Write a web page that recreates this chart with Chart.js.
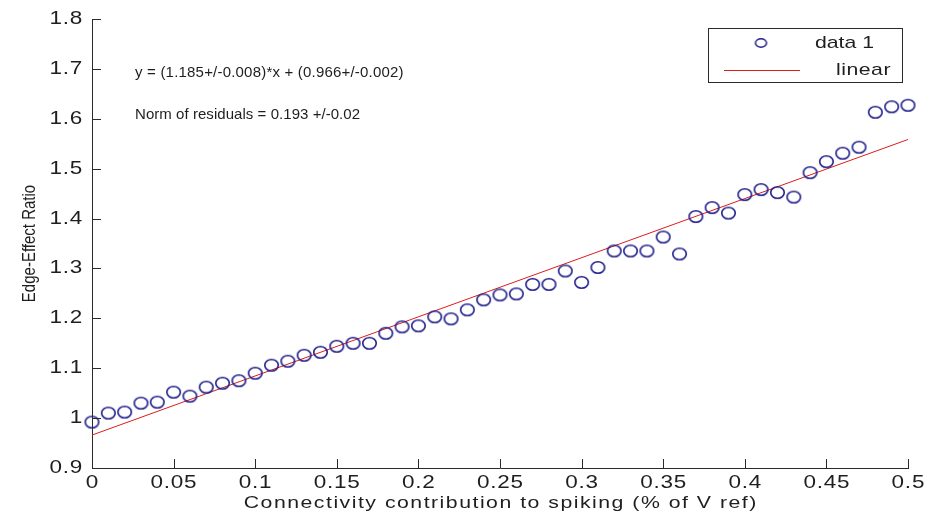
<!DOCTYPE html>
<html>
<head>
<meta charset="utf-8">
<script src="https://cdn.jsdelivr.net/npm/chart.js@4.4.1/dist/chart.umd.min.js"></script>
<style>
  html, body { margin: 0; padding: 0; background: #fff; }
  #wrap { width: 930px; height: 514px; position: relative; }
</style>
</head>
<body>
<div id="wrap"><canvas id="c" width="930" height="514"></canvas></div>
<script>
// connectivity contribution (x) and measured edge-effect ratio
const xValues = [0, 0.01, 0.02, 0.03, 0.04, 0.05, 0.06, 0.07, 0.08, 0.09,
  0.10, 0.11, 0.12, 0.13, 0.14, 0.15, 0.16, 0.17, 0.18, 0.19,
  0.20, 0.21, 0.22, 0.23, 0.24, 0.25, 0.26, 0.27, 0.28, 0.29,
  0.30, 0.31, 0.32, 0.33, 0.34, 0.35, 0.36, 0.37, 0.38, 0.39,
  0.40, 0.41, 0.42, 0.43, 0.44, 0.45, 0.46, 0.47, 0.48, 0.49, 0.50];
const ratioValues = [0.992, 1.010, 1.012, 1.030, 1.032, 1.052, 1.044, 1.062, 1.070, 1.075,
  1.090, 1.106, 1.114, 1.126, 1.132, 1.144, 1.150, 1.150, 1.170, 1.183,
  1.185, 1.203, 1.199, 1.217, 1.237, 1.247, 1.249, 1.268, 1.268, 1.295,
  1.272, 1.302, 1.335, 1.335, 1.335, 1.363, 1.329, 1.404, 1.422, 1.411,
  1.448, 1.458, 1.452, 1.443, 1.492, 1.514, 1.531, 1.543, 1.613, 1.624, 1.627];
// fitted line end points (from the printed fit)
const fitX = [0, 0.5];
const fitY = [0.966, 1.5585];

const xTicks = [0, 0.05, 0.1, 0.15, 0.2, 0.25, 0.3, 0.35, 0.4, 0.45, 0.5];
const yTicks = [0.9, 1, 1.1, 1.2, 1.3, 1.4, 1.5, 1.6, 1.7, 1.8];

const xTitle = 'Connectivity contribution to spiking (% of V ref)';
const yTitle = 'Edge-Effect Ratio';
const fitText = 'y = (1.185+/-0.008)*x + (0.966+/-0.002)';
const normText = 'Norm of residuals = 0.193 +/-0.02';

const FONT = "'Liberation Sans', Arial, sans-serif";
const AXIS = '#2a2a2a';
const TEXT = '#1e1e1e';
const BLUE = '#20208c';
const RED = '#dc1c1c';

// the source picture is stretched sideways, so markers and text are too
const SX = 1.25;

function ring(w, h, lw) {
  const c = document.createElement('canvas');
  c.width = w + 4;
  c.height = h + 4;
  const g = c.getContext('2d');
  g.strokeStyle = BLUE;
  g.lineWidth = lw;
  g.beginPath();
  g.ellipse(c.width / 2, c.height / 2, w / 2, h / 2, 0, 0, Math.PI * 2);
  g.stroke();
  return c;
}
const marker = ring(13.5, 11.5, 1.6);
const legendMarker = ring(11, 8.5, 1.5);

// draw text squeezed/stretched by sx along the baseline
function wide(ctx, text, x, y, sx, spacing) {
  ctx.save();
  ctx.translate(x, y);
  ctx.scale(sx, 1);
  ctx.letterSpacing = (spacing || 0) + 'px';
  ctx.fillText(text, ctx.textAlign === 'center' ? (spacing || 0) / 2 : 0, 0);
  ctx.restore();
}

// matlab style inward ticks, labels, annotations and legend
const extras = {
  id: 'extras',
  afterDraw(chart) {
    const { ctx, chartArea: a, scales } = chart;
    const xs = scales.x, ys = scales.y;
    ctx.save();
    ctx.strokeStyle = AXIS;
    ctx.lineWidth = 1;
    ctx.beginPath();
    xTicks.forEach(v => {
      const px = Math.round(xs.getPixelForValue(v)) + 0.5;
      ctx.moveTo(px, a.bottom);
      ctx.lineTo(px, a.bottom - 9);
    });
    yTicks.forEach(v => {
      const py = Math.round(ys.getPixelForValue(v)) + 0.5;
      ctx.moveTo(a.left, py);
      ctx.lineTo(a.left + 9, py);
    });
    ctx.stroke();

    ctx.fillStyle = TEXT;
    ctx.textBaseline = 'middle';
    ctx.font = '18px ' + FONT;
    ctx.textAlign = 'center';
    xTicks.forEach(v => {
      wide(ctx, String(v), xs.getPixelForValue(v), a.bottom + 15, SX, 0.6);
    });
    ctx.textAlign = 'right';
    yTicks.forEach(v => {
      wide(ctx, String(Math.round(v * 10) / 10), a.left - 9, ys.getPixelForValue(v), SX, 0.6);
    });

    ctx.textAlign = 'center';
    ctx.font = '17px ' + FONT;
    wide(ctx, xTitle, (a.left + a.right) / 2, 503, SX, 1.2);

    ctx.save();
    ctx.translate(30, (a.top + a.bottom) / 2);
    ctx.rotate(-Math.PI / 2);
    ctx.scale(1, SX);
    ctx.font = '15px ' + FONT;
    ctx.fillText(yTitle, 0, 0);
    ctx.restore();

    ctx.textAlign = 'left';
    ctx.font = '15px ' + FONT;
    wide(ctx, fitText, 135, 73, 1, 0.2);
    wide(ctx, normText, 135, 115, 1, 0.05);

    // legend
    const lx = 708.5, ly = 28.5, lw = 194, lh = 54;
    ctx.fillStyle = '#fff';
    ctx.fillRect(lx, ly, lw, lh);
    ctx.strokeStyle = AXIS;
    ctx.strokeRect(lx, ly, lw, lh);
    const ds = chart.data.datasets;
    ctx.drawImage(legendMarker, 761 - legendMarker.width / 2, 43 - legendMarker.height / 2);
    ctx.strokeStyle = ds[1].borderColor;
    ctx.lineWidth = 1;
    ctx.beginPath();
    ctx.moveTo(724, 70.5);
    ctx.lineTo(800, 70.5);
    ctx.stroke();
    ctx.fillStyle = TEXT;
    ctx.font = '17px ' + FONT;
    ctx.textAlign = 'right';
    wide(ctx, ds[0].label, 874, 43, SX, 0);
    wide(ctx, ds[1].label, 891, 70, SX, 0.4);
    ctx.restore();
  }
};

new Chart(document.getElementById('c').getContext('2d'), {
  type: 'scatter',
  data: {
    datasets: [
      {
        label: 'data 1',
        data: xValues.map((x, i) => ({ x, y: ratioValues[i] })),
        borderColor: BLUE,
        backgroundColor: 'rgba(0,0,0,0)',
        pointStyle: marker,
        pointRadius: 7,
        showLine: false,
        clip: false,
        order: 1,
      },
      {
        label: 'linear',
        data: fitX.map((x, i) => ({ x, y: fitY[i] })),
        borderColor: RED,
        borderWidth: 1,
        pointRadius: 0,
        showLine: true,
        order: 2,
      },
    ],
  },
  options: {
    responsive: false,
    animation: false,
    layout: { padding: { top: 19, right: 22, left: 0, bottom: 0 } },
    plugins: {
      legend: { display: false },
      tooltip: { enabled: false },
    },
    scales: {
      x: {
        type: 'linear',
        min: 0,
        max: 0.5,
        afterFit(s) { s.height = 46; },
        grid: { display: false, drawTicks: false },
        border: { display: true, color: AXIS, width: 1 },
        ticks: { display: false },
      },
      y: {
        type: 'linear',
        min: 0.9,
        max: 1.8,
        afterFit(s) { s.width = 92; },
        grid: { display: false, drawTicks: false },
        border: { display: true, color: AXIS, width: 1 },
        ticks: { display: false },
      },
    },
  },
  plugins: [extras],
});
</script>
</body>
</html>
